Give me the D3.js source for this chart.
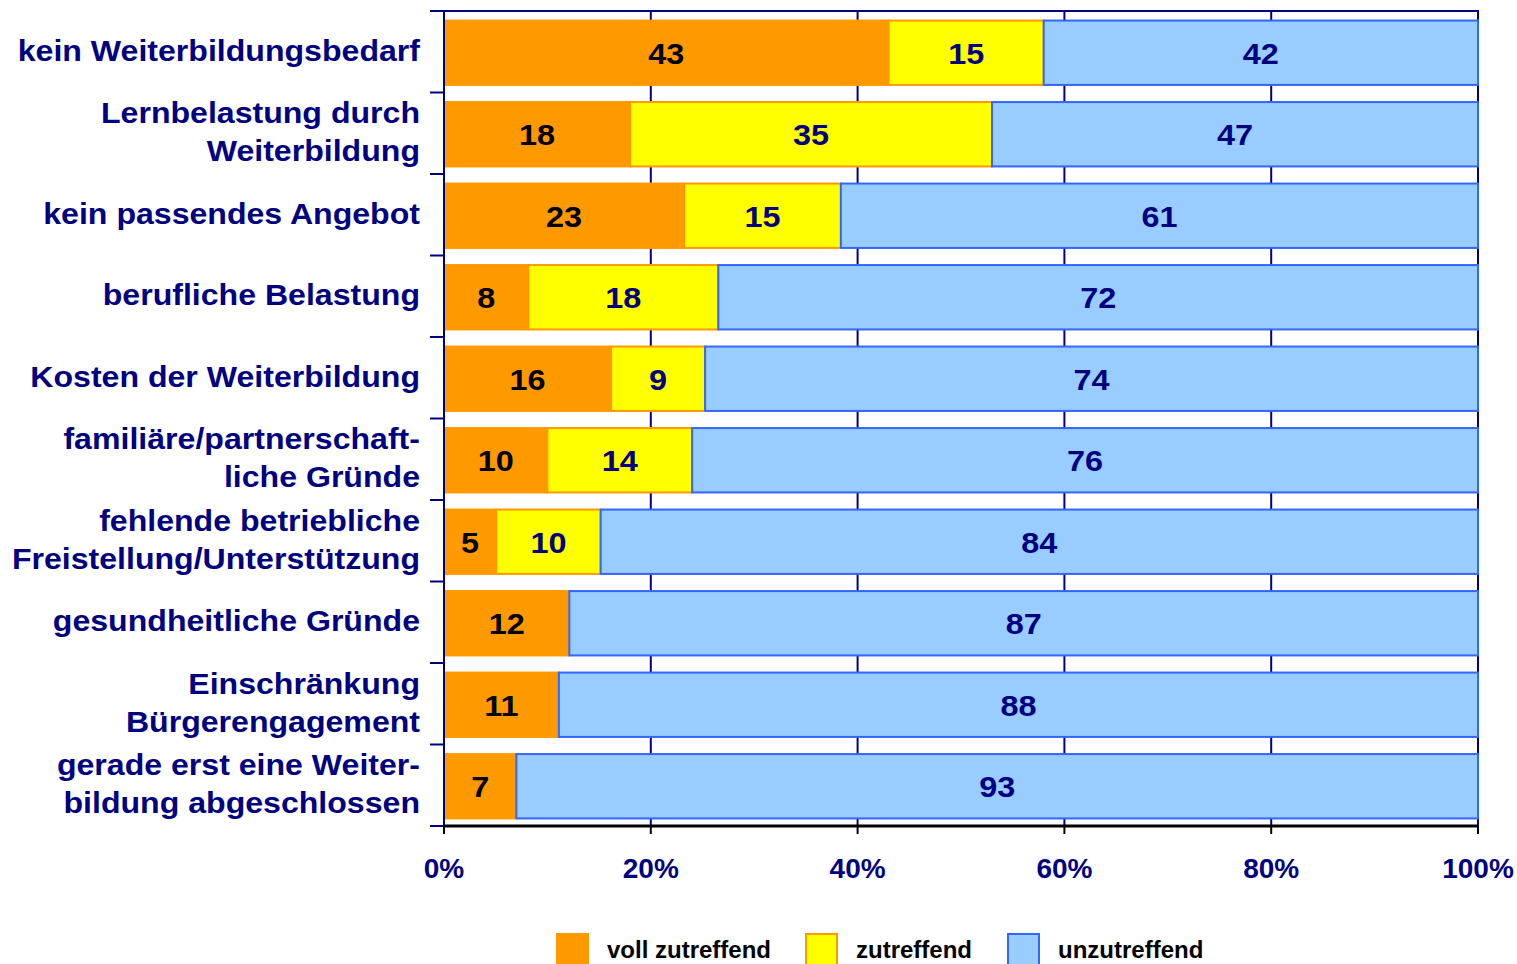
<!DOCTYPE html>
<html>
<head>
<meta charset="utf-8">
<script src="https://cdn.jsdelivr.net/npm/d3@7"></script>
<style>
  body { margin: 0; background: #fff; }
  svg { display: block; font-family: "Liberation Sans", Arial, sans-serif; font-weight: bold; }
</style>
</head>
<body>
<script>
// category labels, each as lines
const categories = [
  ['kein Weiterbildungsbedarf'],
  ['Lernbelastung durch', 'Weiterbildung'],
  ['kein passendes Angebot'],
  ['berufliche Belastung'],
  ['Kosten der Weiterbildung'],
  ['familiäre/partnerschaft-', 'liche Gründe'],
  ['fehlende betriebliche', 'Freistellung/Unterstützung'],
  ['gesundheitliche Gründe'],
  ['Einschränkung', 'Bürgerengagement'],
  ['gerade erst eine Weiter-', 'bildung abgeschlossen']
]
const vollZutreffend = [43, 18, 23, 8, 16, 10, 5, 12, 11, 7]
const zutreffend = [15, 35, 15, 18, 9, 14, 10, 0, 0, 0]
const unzutreffend = [42, 47, 61, 72, 74, 76, 84, 87, 88, 93]
const seriesNames = ['voll zutreffend', 'zutreffend', 'unzutreffend']
const xTicks = [0, 0.2, 0.4, 0.6, 0.8, 1]

const navy = '#000080'
const fills = ['#FF9900', '#FFFF00', '#99CCFF']
const strokes = ['#FF9900', '#FF9900', '#3366FF']
const labelColors = ['#000000', navy, navy]

const W = 1517, H = 964
const pLeft = 444, pRight = 1478, pTop = 11, pBottom = 826

const svg = d3.select('body').append('svg')
  .attr('width', W).attr('height', H)

const rows = categories.map((c, i) => {
  const vals = [vollZutreffend[i], zutreffend[i], unzutreffend[i]]
  const sum = d3.sum(vals)
  let acc = 0
  const segs = vals.map((v, k) => {
    const s = { k: k, v: v, x0: acc / sum, x1: (acc + v) / sum }
    acc += v
    return s
  })
  return { i: i, lines: c, segs: segs }
})

const x = d3.scaleLinear().domain([0, 1]).range([pLeft, pRight])
const y = d3.scaleBand().domain(d3.range(categories.length))
  .range([pTop, pBottom]).paddingInner(0.21).paddingOuter(0.105)

// gridlines
svg.append('g')
  .selectAll('line')
  .data(xTicks.slice(1, -1))
  .join('line')
  .attr('x1', d => x(d)).attr('x2', d => x(d))
  .attr('y1', pTop).attr('y2', pBottom)
  .attr('stroke', navy).attr('stroke-width', 2)

// top + right border
svg.append('path')
  .attr('d', `M${pLeft - 14},${pTop}H${pRight}V${pBottom}`)
  .attr('fill', 'none').attr('stroke', navy).attr('stroke-width', 2)

// bars
const rowG = svg.append('g')
  .selectAll('g')
  .data(rows)
  .join('g')
  .attr('transform', d => `translate(0,${y(d.i) + 1})`)

rowG.selectAll('rect')
  .data(d => d.segs.filter(s => s.v > 0))
  .join('rect')
  .attr('x', s => x(s.x0))
  .attr('width', s => x(s.x1) - x(s.x0))
  .attr('y', 0)
  .attr('height', y.bandwidth())
  .attr('fill', s => fills[s.k])
  .attr('stroke', s => strokes[s.k])
  .attr('stroke-width', 2)

rowG.selectAll('text')
  .data(d => d.segs.filter(s => s.v > 0))
  .join('text')
  .attr('transform', s => `translate(${(x(s.x0) + x(s.x1)) / 2},${y.bandwidth() / 2 + 11}) scale(1.08,1)`)
  .attr('text-anchor', 'middle')
  .attr('font-size', 30)
  .attr('fill', s => labelColors[s.k])
  .text(s => s.v)

// y axis
const yAxis = svg.append('g')
  .attr('transform', `translate(${pLeft},0)`)
yAxis.append('line')
  .attr('x1', 0).attr('x2', 0).attr('y1', pTop).attr('y2', pBottom)
  .attr('stroke', navy).attr('stroke-width', 2)
yAxis.selectAll('line.tick')
  .data(d3.range(categories.length + 1))
  .join('line')
  .attr('class', 'tick')
  .attr('x1', -14).attr('x2', 0)
  .attr('y1', d => pTop + d * y.step()).attr('y2', d => pTop + d * y.step())
  .attr('stroke', navy).attr('stroke-width', 2)

svg.append('g')
  .selectAll('text')
  .data(rows)
  .join('text')
  .attr('text-anchor', 'end')
  .attr('font-size', 30)
  .attr('fill', navy)
  .attr('transform', d => `translate(420,${pTop + (d.i + 0.5) * y.step()}) scale(1.07,1)`)
  .each(function(d) {
    const n = d.lines.length
    d3.select(this).selectAll('tspan')
      .data(d.lines)
      .join('tspan')
      .attr('x', 0)
      .attr('y', (l, j) => (n === 1 ? 9 : (j === 0 ? -10 : 28)))
      .text(l => l)
  })

// x axis
const xAxis = svg.append('g')
xAxis.append('line')
  .attr('x1', pLeft).attr('x2', pRight).attr('y1', pBottom).attr('y2', pBottom)
  .attr('stroke', '#000').attr('stroke-width', 3)
xAxis.selectAll('line.tick')
  .data(xTicks)
  .join('line')
  .attr('class', 'tick')
  .attr('x1', d => x(d)).attr('x2', d => x(d))
  .attr('y1', pBottom).attr('y2', pBottom + 8)
  .attr('stroke', '#000').attr('stroke-width', 2)
xAxis.selectAll('text')
  .data(xTicks)
  .join('text')
  .attr('x', d => x(d))
  .attr('y', 878)
  .attr('text-anchor', 'middle')
  .attr('font-size', 28)
  .attr('fill', navy)
  .text(d => d3.format('.0%')(d))

// legend
const legendX = [556, 805, 1007]
const leg = svg.append('g')
  .selectAll('g')
  .data(seriesNames)
  .join('g')
  .attr('transform', (d, i) => `translate(${legendX[i]},933)`)
leg.append('rect')
  .attr('x', 1).attr('y', 1).attr('width', 31).attr('height', 34)
  .attr('fill', (d, i) => fills[i])
  .attr('stroke', (d, i) => strokes[i])
  .attr('stroke-width', 2)
leg.append('text')
  .attr('x', 51).attr('y', 25)
  .attr('font-size', 24)
  .attr('fill', '#000')
  .text(d => d)
</script>
</body>
</html>
